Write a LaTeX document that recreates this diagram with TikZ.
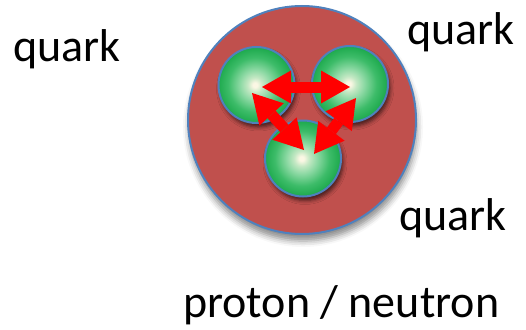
\documentclass[tikz,border=0pt]{standalone}
\usepackage{fontspec}
\setmainfont{Carlito}
\usepackage{tikz}
\usetikzlibrary{arrows.meta, shadows.blur}
\usepackage{xcolor}
\tikzset{
    nucleon/.style={circle, draw=EdgeBlue, line width=2pt, fill=NucleonRed, minimum size=228pt, inner sep=0pt,
        blur shadow={shadow xshift=1pt, shadow yshift=-7pt, shadow blur radius=6pt, shadow opacity=45}},
    quark/.style={circle, draw=EdgeBlue, line width=2pt, shading=quarkball, minimum size=76pt, inner sep=0pt,
        blur shadow={shadow xshift=2pt, shadow yshift=-4pt, shadow blur radius=4pt, shadow opacity=65}},
    bond/.style={{Triangle[width=33pt,length=29pt,line width=0pt]}-{Triangle[width=33pt,length=29pt,line width=0pt]}, line width=11pt, draw=BondRed},
    lbl/.style={font=\fontsize{46}{52}\selectfont, text=black, inner sep=0pt, anchor=base west},
}
\definecolor{NucleonRed}{HTML}{C0504D}
\definecolor{EdgeBlue}{HTML}{4F81BD}
\definecolor{BondRed}{HTML}{FF0000}
\definecolor{QuarkCore}{HTML}{FBF7E4}
\definecolor{QuarkLight}{HTML}{8DD9A4}
\definecolor{QuarkMid}{HTML}{3DBC69}
\definecolor{QuarkGreen}{HTML}{1CA94C}
% the circle fills the inner 50bp of the shading
\pgfdeclareradialshading{quarkball}{\pgfpoint{-1bp}{0bp}}{color(0bp)=(QuarkCore); color(1.5bp)=(QuarkCore); color(5bp)=(QuarkCore!50!QuarkLight); color(10bp)=(QuarkLight); color(18bp)=(QuarkMid); color(25bp)=(QuarkGreen); color(50bp)=(QuarkGreen)}

\begin{document}
\begin{tikzpicture}[x=1pt, y=-1pt]
\useasboundingbox (0,0) rectangle (526,329);

% Nucleon and its quarks
\node[nucleon] (nuc) at (302,120) {};
\node[quark] (ql) at (256.5,85) {};
\node[quark] (qr) at (350,84) {};
\node[quark] (qb) at (303,158.5) {};

% Bonds
\draw[bond] ([shift={(5.5,2)}]ql.center) -- ([shift={(0,3)}]qr.center);
\draw[bond] ([shift={(-4.5,8)}]ql.center) -- ([shift={(1,-8.5)}]qb.center);
\draw[bond] ([shift={(6,14)}]qr.center) -- ([shift={(11,-4.5)}]qb.center);

% Labels
\node[lbl] (lq1) at (13,61) {quark};
\node[lbl] (lq2) at (407,45) {quark};
\node[lbl] (lq3) at (399,230) {quark};
\node[lbl] (lnuc) at (183,317) {proton / neutron};

\end{tikzpicture}
\end{document}
